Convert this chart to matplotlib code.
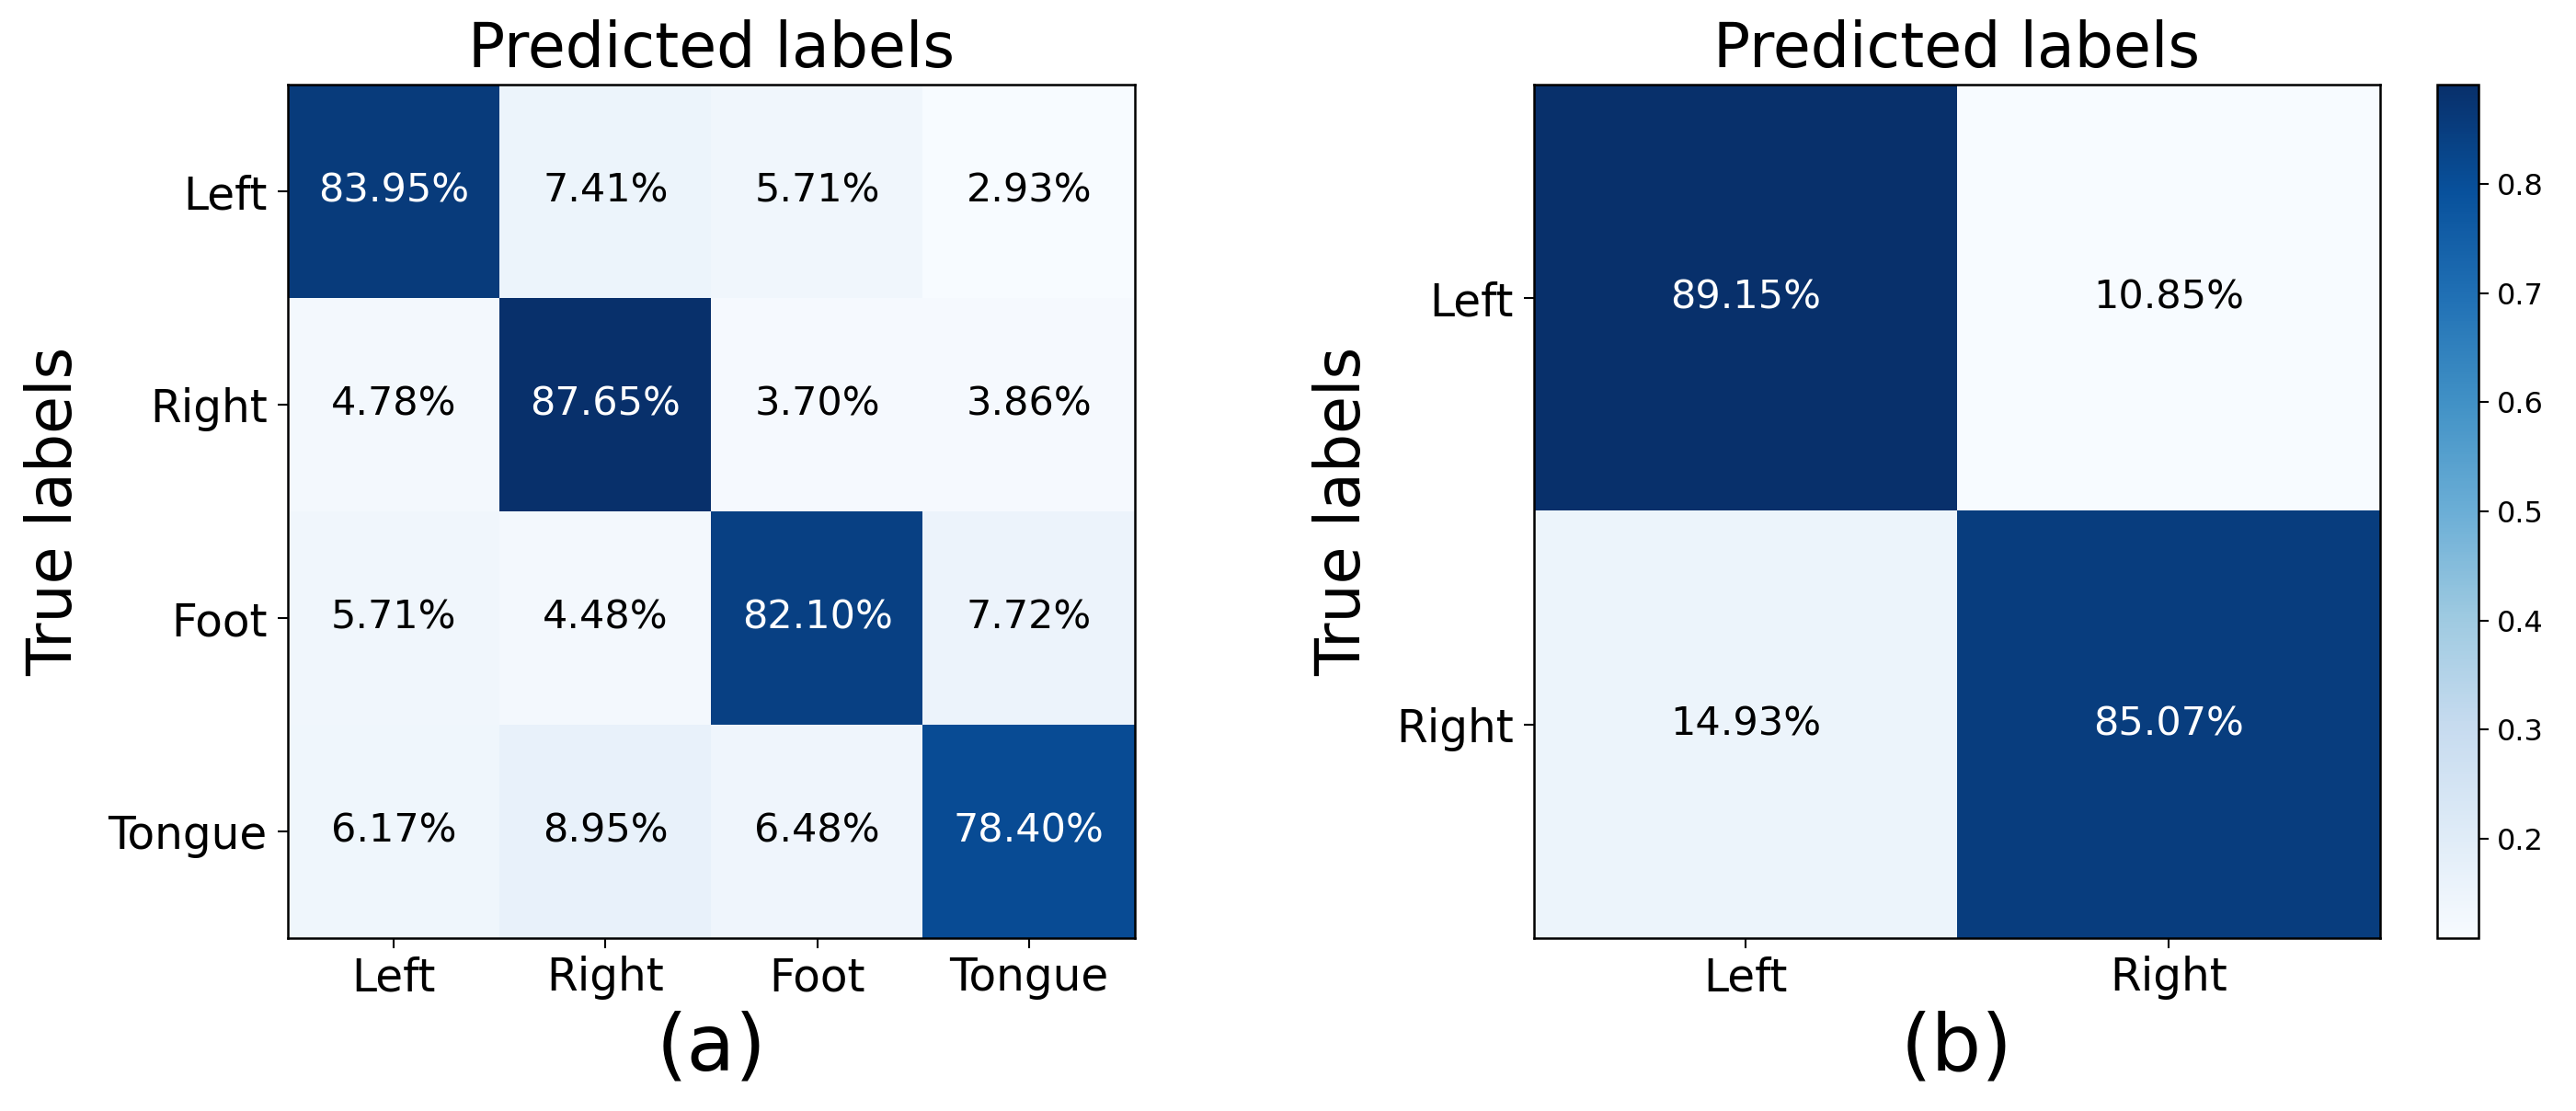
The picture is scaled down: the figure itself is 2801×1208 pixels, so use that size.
import numpy as np
import matplotlib
matplotlib.use("Agg")
import matplotlib.pyplot as plt

# -------------------------
# Datos (porcentajes de las matrices de confusión)
# -------------------------
clases_4 = ["Left", "Right", "Foot", "Tongue"]
fila_left_4 = [83.95, 7.41, 5.71, 2.93]
fila_right_4 = [4.78, 87.65, 3.70, 3.86]
fila_foot_4 = [5.71, 4.48, 82.10, 7.72]
fila_tongue_4 = [6.17, 8.95, 6.48, 78.40]

clases_2 = ["Left", "Right"]
fila_left_2 = [89.15, 10.85]
fila_right_2 = [14.93, 85.07]

cbar_ticks = [0.2, 0.3, 0.4, 0.5, 0.6, 0.7, 0.8]
subtitulos = ["(a)", "(b)"]

cm_a = np.array([fila_left_4, fila_right_4, fila_foot_4, fila_tongue_4]) / 100
cm_b = np.array([fila_left_2, fila_right_2]) / 100

W, H = 2801, 1208
fig = plt.figure(figsize=(W / 100, H / 100), dpi=100)

ax_bottom = (H - 1020) / H
ax_h = 928 / H
ax_a = fig.add_axes([313 / W, ax_bottom, 921 / W, ax_h])
ax_b = fig.add_axes([1668 / W, ax_bottom, 920 / W, ax_h])
cax = fig.add_axes([2650 / W, ax_bottom, 45 / W, ax_h])


def dibujar_cm(ax, cm, clases, sub):
    im = ax.imshow(cm, cmap="Blues", aspect="auto", interpolation="nearest")
    umbral = cm.max() / 2
    for i in range(cm.shape[0]):
        for j in range(cm.shape[1]):
            color = "white" if cm[i, j] > umbral else "black"
            ax.text(j, i, f"{cm[i, j] * 100:.2f}%", ha="center", va="center",
                    fontsize=31, color=color)
    ax.set_xticks(range(len(clases)))
    ax.set_yticks(range(len(clases)))
    ax.set_xticklabels(clases, fontsize=35)
    ax.set_yticklabels(clases, fontsize=35)
    ax.tick_params(length=8, width=1.5, pad=6)
    ax.tick_params(axis="y", pad=8)
    for s in ax.spines.values():
        s.set_linewidth(1.8)
    ax.set_title("Predicted labels", fontsize=48, pad=14)
    ax.set_ylabel("True labels", fontsize=48, labelpad=18)
    ax.set_xlabel(sub, fontsize=62, labelpad=8)
    return im


dibujar_cm(ax_a, cm_a, clases_4, subtitulos[0])
im_b = dibujar_cm(ax_b, cm_b, clases_2, subtitulos[1])

cb = fig.colorbar(im_b, cax=cax, ticks=cbar_ticks)
cb.ax.tick_params(labelsize=23, length=8, width=1.5, pad=6)
cb.outline.set_linewidth(1.8)

plt.savefig("out.png", dpi=100)
